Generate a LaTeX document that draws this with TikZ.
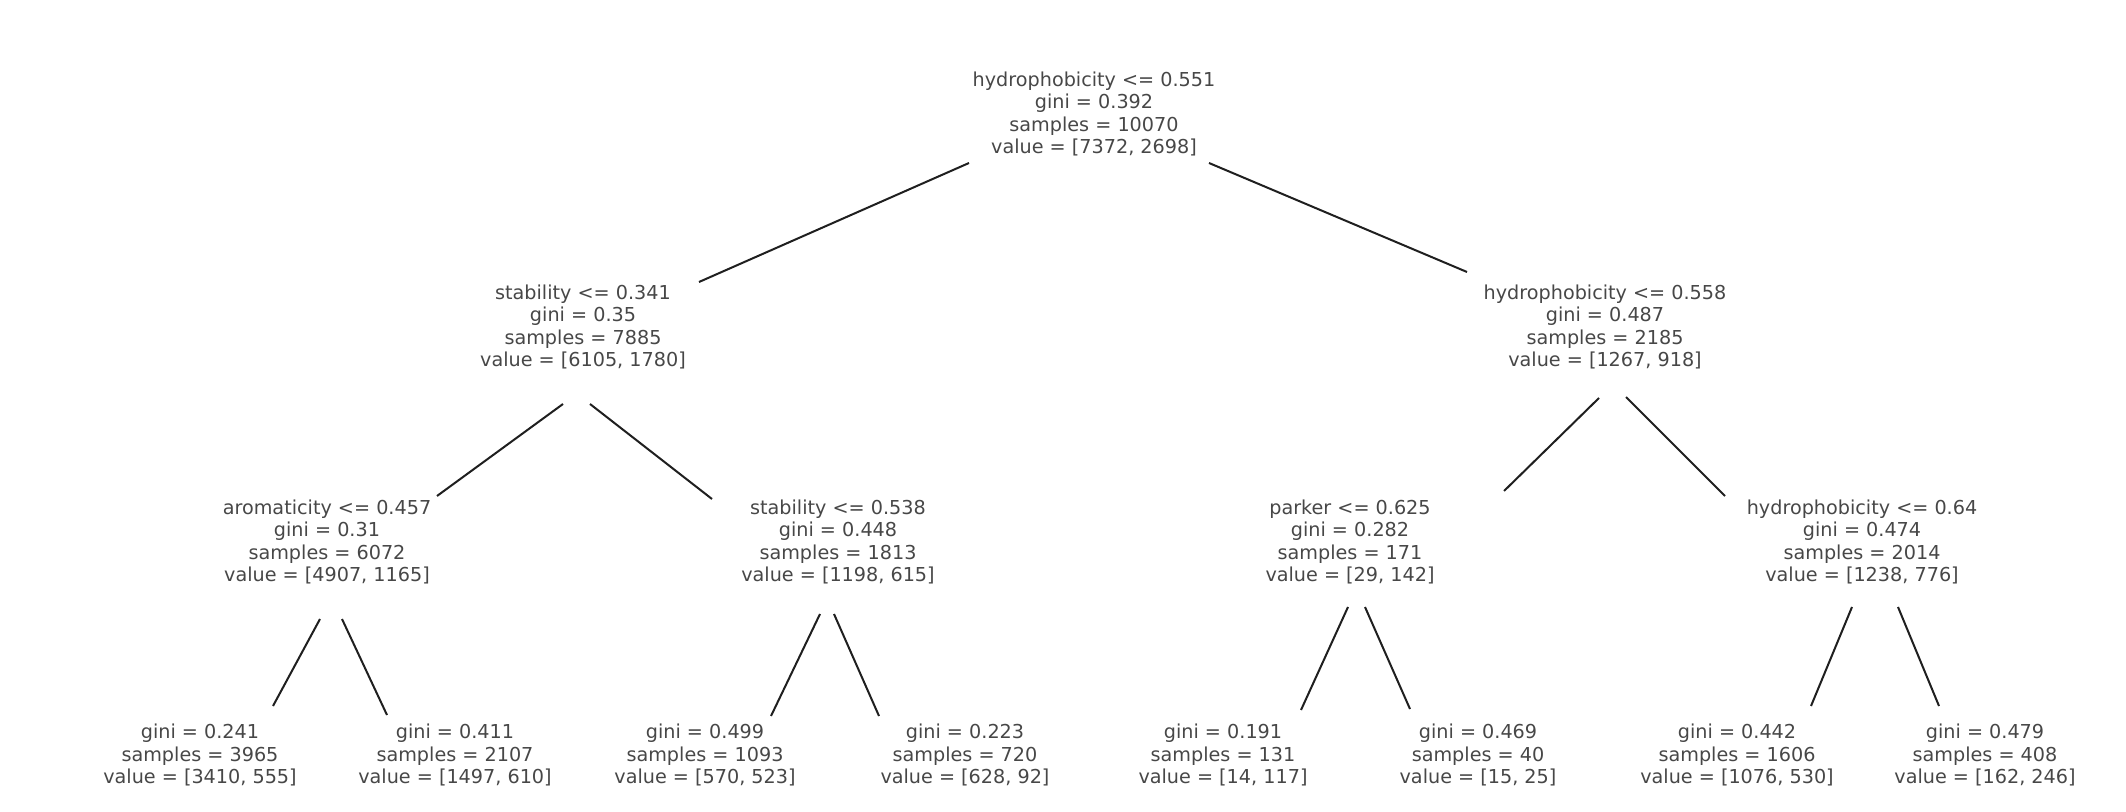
\documentclass[tikz,border=0pt]{standalone}
\usepackage{fontspec}
\setmainfont{DejaVu Sans}
\begin{document}
\begin{tikzpicture}[x=0.5pt,y=-0.5pt,
  tn/.style={align=center, inner sep=0pt, text=black!72,
             font=\fontsize{9.6}{11.15}\selectfont},
  edge/.style={draw=black!88, line width=1pt}]
\useasboundingbox (0,0) rectangle (2126,812);

% split nodes
\node[tn] (root)  at (1094,114) {hydrophobicity <= 0.551\\gini = 0.392\\samples = 10070\\value = [7372, 2698]};
\node[tn] (l1a)   at (583,327)  {stability <= 0.341\\gini = 0.35\\samples = 7885\\value = [6105, 1780]};
\node[tn] (l1b)   at (1605,327) {hydrophobicity <= 0.558\\gini = 0.487\\samples = 2185\\value = [1267, 918]};
\node[tn] (arom)  at (327,542)  {aromaticity <= 0.457\\gini = 0.31\\samples = 6072\\value = [4907, 1165]};
\node[tn] (stab2) at (838,542)  {stability <= 0.538\\gini = 0.448\\samples = 1813\\value = [1198, 615]};
\node[tn] (park)  at (1350,542) {parker <= 0.625\\gini = 0.282\\samples = 171\\value = [29, 142]};
\node[tn] (hyd64) at (1862,542) {hydrophobicity <= 0.64\\gini = 0.474\\samples = 2014\\value = [1238, 776]};

% leaves
\node[tn] (leaf1) at (200,755)  {gini = 0.241\\samples = 3965\\value = [3410, 555]};
\node[tn] (leaf2) at (455,755)  {gini = 0.411\\samples = 2107\\value = [1497, 610]};
\node[tn] (leaf3) at (705,755)  {gini = 0.499\\samples = 1093\\value = [570, 523]};
\node[tn] (leaf4) at (965,755)  {gini = 0.223\\samples = 720\\value = [628, 92]};
\node[tn] (leaf5) at (1223,755) {gini = 0.191\\samples = 131\\value = [14, 117]};
\node[tn] (leaf6) at (1478,755) {gini = 0.469\\samples = 40\\value = [15, 25]};
\node[tn] (leaf7) at (1737,755) {gini = 0.442\\samples = 1606\\value = [1076, 530]};
\node[tn] (leaf8) at (1985,755) {gini = 0.479\\samples = 408\\value = [162, 246]};

% connectors
\draw[edge] ([shift={(-125,49)}]root.center) -- ([shift={(116,-45)}]l1a.center);
\draw[edge] ([shift={(115,49)}]root.center)  -- ([shift={(-138,-55)}]l1b.center);
\draw[edge] ([shift={(-20,77)}]l1a.center)   -- ([shift={(110,-46)}]arom.center);
\draw[edge] ([shift={(7,77)}]l1a.center)     -- ([shift={(-126,-43)}]stab2.center);
\draw[edge] ([shift={(-6,71)}]l1b.center)    -- ([shift={(154,-51)}]park.center);
\draw[edge] ([shift={(21,70)}]l1b.center)    -- ([shift={(-137,-46)}]hyd64.center);
\draw[edge] ([shift={(-7,77)}]arom.center)   -- ([shift={(73,-49)}]leaf1.center);
\draw[edge] ([shift={(15,77)}]arom.center)   -- ([shift={(-68,-40)}]leaf2.center);
\draw[edge] ([shift={(-18,72)}]stab2.center) -- ([shift={(66,-39)}]leaf3.center);
\draw[edge] ([shift={(-4,72)}]stab2.center)  -- ([shift={(-86,-39)}]leaf4.center);
\draw[edge] ([shift={(-2,65)}]park.center)   -- ([shift={(78,-45)}]leaf5.center);
\draw[edge] ([shift={(15,65)}]park.center)   -- ([shift={(-68,-46)}]leaf6.center);
\draw[edge] ([shift={(-10,65)}]hyd64.center) -- ([shift={(74,-49)}]leaf7.center);
\draw[edge] ([shift={(36,65)}]hyd64.center)  -- ([shift={(-46,-49)}]leaf8.center);
\end{tikzpicture}
\end{document}
